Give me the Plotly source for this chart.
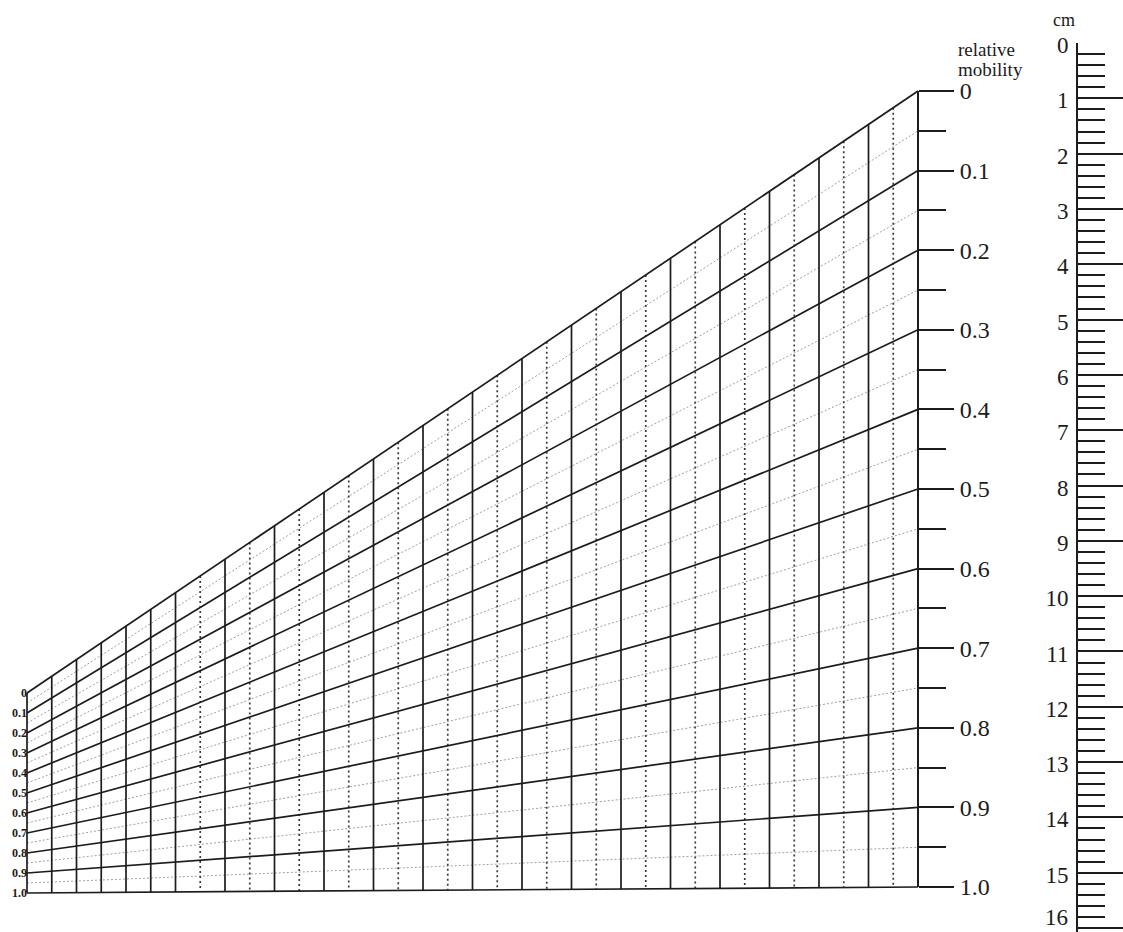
import plotly.graph_objects as go

# ---------------- data ----------------
mobility_major = [0.0, 0.1, 0.2, 0.3, 0.4, 0.5, 0.6, 0.7, 0.8, 0.9, 1.0]
mobility_labels = ["0", "0.1", "0.2", "0.3", "0.4", "0.5", "0.6", "0.7", "0.8", "0.9", "1.0"]
mobility_minor = [0.05, 0.15, 0.25, 0.35, 0.45, 0.55, 0.65, 0.75, 0.85, 0.95]
column_count = 36                       # column divisions across the chart
solid_columns = [0, 1, 2, 3, 4, 5, 6] + list(range(8, 37, 2))
dotted_columns = list(range(7, 36, 2))
cm_values = list(range(0, 17))
cm_labels = [str(v) for v in cm_values]
cm_minor_step = 0.2

# ---------------- layout geometry (pixels) ----------------
W, H = 1123, 932
GRID_LEFT_X, GRID_RIGHT_X = 27, 918
LEFT_TOP, LEFT_BOTTOM = 693, 893
RIGHT_TOP, RIGHT_BOTTOM = 91, 887
RULER_X, RULER_TOP, RULER_BOTTOM = 1077, 43, 928

FONT = "Liberation Serif"
INK = "#1c1c1c"


def col_x(c):
    return GRID_LEFT_X + (GRID_RIGHT_X - GRID_LEFT_X) * c / column_count


def grid_point(c, m):
    t = c / column_count
    yl = LEFT_TOP + (LEFT_BOTTOM - LEFT_TOP) * m
    yr = RIGHT_TOP + (RIGHT_BOTTOM - RIGHT_TOP) * m
    return col_x(c), yl * (1 - t) + yr * t


def segments(pairs):
    xs, ys = [], []
    for (a, b) in pairs:
        xs += [a[0], b[0], None]
        ys += [a[1], b[1], None]
    return xs, ys


solid_pairs = [(grid_point(0, m), grid_point(column_count, m)) for m in mobility_major]
solid_pairs += [(grid_point(c, 0.0), grid_point(c, 1.0)) for c in solid_columns]
minor_pairs = [(grid_point(0, m), grid_point(column_count, m)) for m in mobility_minor]
dotted_pairs = [(grid_point(c, 0.0), grid_point(c, 1.0)) for c in dotted_columns]

fig = go.Figure()

mx, my = segments(minor_pairs)
fig.add_trace(go.Scatter(x=mx, y=my, mode="lines",
                         line=dict(color="#a0a0a0", width=1, dash="2px,2px"),
                         hoverinfo="skip", showlegend=False))
dx, dy = segments(dotted_pairs)
fig.add_trace(go.Scatter(x=dx, y=dy, mode="lines",
                         line=dict(color="#3a3a3a", width=1.7, dash="2px,3px"),
                         hoverinfo="skip", showlegend=False))
sx, sy = segments(solid_pairs)
fig.add_trace(go.Scatter(x=sx, y=sy, mode="lines",
                         line=dict(color=INK, width=1.7),
                         hoverinfo="skip", showlegend=False))

# placeholder traces so each scale axis is drawn
for ax in ["y2", "y3", "y4"]:
    fig.add_trace(go.Scatter(x=[None], y=[None], xaxis="x", yaxis=ax,
                             hoverinfo="skip", showlegend=False))


def dom(top_px, bottom_px):
    return [max(0.0, 1 - bottom_px / H), 1 - top_px / H]


# ruler: let the domain reach the page bottom so the 16 cm tick stays inside the range
px_per_cm = (RULER_BOTTOM - RULER_TOP) / cm_values[-1]
ruler_max = (H - RULER_TOP) / px_per_cm
# the last label sits at the page edge; it is placed separately so it stays readable
ruler_ticktext = cm_labels[:-1] + [""]

fig.update_layout(
    template="none",
    width=W, height=H,
    margin=dict(l=0, r=0, t=0, b=0),
    paper_bgcolor="white", plot_bgcolor="rgba(0,0,0,0)",
    showlegend=False,
    xaxis=dict(range=[0, W], domain=[0, 1], visible=False, automargin=False),
    yaxis=dict(range=[H, 0], domain=[0, 1], visible=False, automargin=False),
    # right mobility scale
    yaxis2=dict(
        anchor="free", position=GRID_RIGHT_X / W, side="right",
        domain=dom(RIGHT_TOP, RIGHT_BOTTOM), range=[1, 0],
        tickmode="array", tickvals=mobility_major, ticktext=mobility_labels,
        ticks="outside", ticklen=35, tickwidth=1.7, tickcolor=INK,
        minor=dict(tickmode="array", tickvals=mobility_minor, ticks="outside",
                   ticklen=27, tickwidth=1.7, tickcolor=INK, showgrid=False),
        showline=True, linecolor=INK, linewidth=1.7,
        showgrid=False, zeroline=False, automargin=False,
        ticklabelstandoff=1,
        tickfont=dict(family=FONT, size=24, color=INK),
    ),
    # left small mobility scale
    yaxis3=dict(
        anchor="free", position=GRID_LEFT_X / W, side="left",
        domain=dom(LEFT_TOP, LEFT_BOTTOM), range=[1, 0],
        tickmode="array", tickvals=mobility_major, ticktext=mobility_labels,
        ticks="", showline=False, showgrid=False, zeroline=False, automargin=False,
        ticklabelstandoff=0,
        tickfont=dict(family=FONT, size=12, color=INK, weight="bold"),
    ),
    # cm ruler
    yaxis4=dict(
        anchor="free", position=RULER_X / W, side="left",
        domain=[0.0, 1 - RULER_TOP / H], range=[ruler_max, 0],
        tickmode="array", tickvals=cm_values, ticktext=ruler_ticktext,
        ticks="inside", ticklen=48, tickwidth=2, tickcolor=INK,
        minor=dict(dtick=cm_minor_step, tick0=0, ticks="inside", ticklen=27,
                   tickwidth=1.6, tickcolor=INK, showgrid=False),
        showline=True, linecolor=INK, linewidth=2,
        showgrid=False, zeroline=False, automargin=False,
        ticklabelstandoff=3, ticklabeloverflow="allow", ticklabelshift=-2,
        tickfont=dict(family=FONT, size=23, color=INK),
    ),
    annotations=[
        dict(text="cm", x=1064, y=20, xref="x", yref="y", showarrow=False,
             font=dict(family=FONT, size=18, color=INK)),
        dict(text="relative", x=956, y=49, xref="x", yref="y", showarrow=False,
             xanchor="left", font=dict(family=FONT, size=19, color=INK)),
        dict(text="mobility", x=956, y=69, xref="x", yref="y", showarrow=False,
             xanchor="left", font=dict(family=FONT, size=19, color=INK)),
        dict(text=cm_labels[-1], x=RULER_X - 7, y=0, xref="x", yref="paper",
             xanchor="right", yanchor="bottom", showarrow=False,
             font=dict(family=FONT, size=23, color=INK)),
    ],
)

fig.write_html("out.html", config={"displayModeBar": False},
               post_script="document.body.style.margin='0';")
